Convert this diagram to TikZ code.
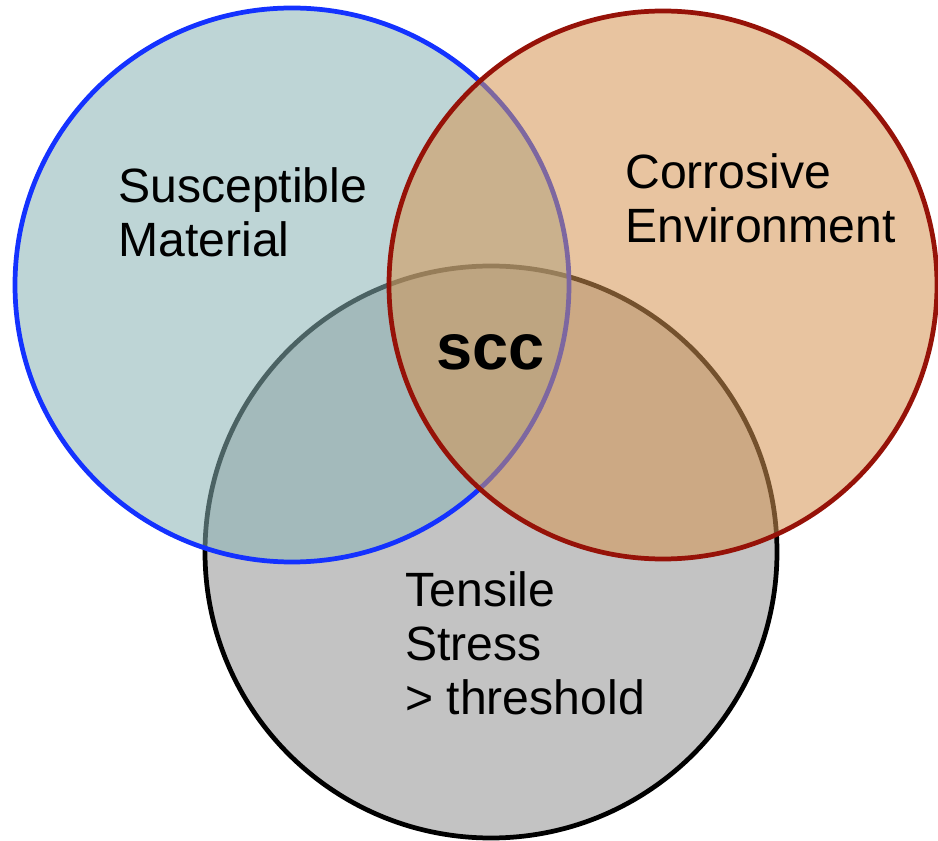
\documentclass[tikz,border=0pt]{standalone}
\usepackage{fontspec}
\setmainfont{Liberation Sans}
\definecolor{matblue}{RGB}{137,179,181}
\definecolor{matedge}{RGB}{20,50,255}
\definecolor{envorange}{RGB}{213,148,82}
\definecolor{envedge}{RGB}{150,18,8}
\definecolor{stressgray}{RGB}{195,195,195}
\tikzset{
  label/.style={anchor=base west, align=left, inner sep=0pt,
    font=\fontsize{27.4}{31}\selectfont},
  ring/.style={line width=2.7pt}
}
\begin{document}
\begin{tikzpicture}[x=0.02cm, y=-0.02cm]
  \useasboundingbox (0,0) rectangle (938,841);
  % מתח (תחתון)
  \filldraw[ring, draw=black, fill=stressgray] (491,552) circle[radius=286];
  % חומר רגיש
  \filldraw[ring, draw=matedge, fill=matblue, fill opacity=0.55] (292,285) circle[radius=277];
  % סביבה קורוזיבית
  \filldraw[ring, draw=envedge, fill=envorange, fill opacity=0.55] (663,285) circle[radius=274];

  \node[label] (material) at (118,257) {Susceptible\\Material};
  \node[label] (environment) at (625,243) {Corrosive\\Environment};
  \node[label] (stress) at (405,715) {Tensile\\Stress\\> threshold};
  \node[anchor=base west, inner sep=0pt, font=\fontsize{37}{44}\selectfont\bfseries] (scc) at (436,370) {scc};
\end{tikzpicture}
\end{document}
